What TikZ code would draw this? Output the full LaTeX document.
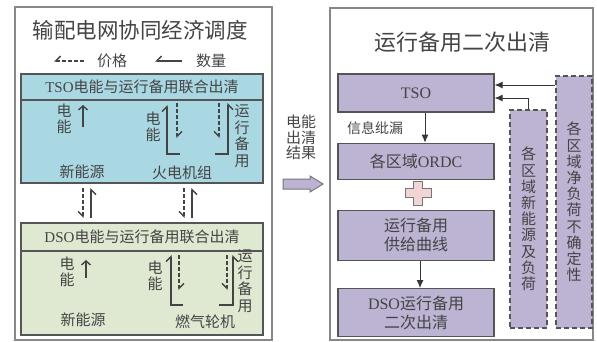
\documentclass[tikz,border=0pt]{standalone}
\usepackage{fontspec}
\setmainfont{Liberation Serif}
\newfontfamily\cjk{Noto Sans CJK SC}
\usetikzlibrary{positioning}
\usetikzlibrary{arrows.meta}

\definecolor{tsoblue}{HTML}{A9D8E3}
\definecolor{dsogreen}{HTML}{DFE9D2}
\definecolor{lilac}{HTML}{BDB3D3}
\definecolor{pluspink}{HTML}{F3D4D4}
\definecolor{ink}{HTML}{444444}
\definecolor{rim}{HTML}{555555}

\newcommand{\fsz}[2]{\fontsize{#1}{#2}\selectfont}

\tikzset{panel/.style={draw=rim!70, line width=1.2pt}}
\tikzset{mktbox/.style={draw=rim, line width=1.2pt, minimum width=242pt, inner sep=0pt, outer sep=0pt, text=ink, font=\cjk\fsz{15}{18}}}
\tikzset{lbl/.style={text=ink, font=\cjk\fsz{15}{18}, align=center, inner sep=0pt}}
\tikzset{vlbl/.style={lbl, font=\cjk\fsz{15}{16.5}}}
\tikzset{hp/.style={draw=ink, line width=1.4pt, -{Straight Barb[harpoon, length=5pt, width=10pt]}}}
\tikzset{hps/.style={draw=ink, line width=1.4pt, -{Straight Barb[harpoon, swap, length=5pt, width=10pt]}}}
\tikzset{up/.style={draw=ink, line width=1.4pt, -{Straight Barb[length=4pt, width=9pt]}}}
\tikzset{dsh/.style={dash pattern=on 4pt off 2pt}}
\tikzset{stage/.style={draw=rim, fill=lilac, line width=1.2pt, minimum width=156pt, inner sep=0pt, text=ink, font=\cjk\fsz{16}{19}, align=center}}
\tikzset{unc/.style={stage, dash pattern=on 5pt off 3pt, font=\cjk\fsz{15}{16.2}}}
\tikzset{flow/.style={draw=ink!80!black, line width=0.9pt, -{Latex[length=8pt, width=7pt]}}}

\begin{document}
\begin{tikzpicture}[x=1pt, y=-1pt]
\useasboundingbox (0,0) rectangle (597,342);

%%% Left panel: coordinated dispatch

\draw[panel] (15,7) rectangle (272,340);
\node[lbl, font=\cjk\fsz{21.5}{24}] (lTitle) at (140,30) {输配电网协同经济调度};

% legend
\coordinate (pa) at (84,61);
\coordinate (pb) at (54,61);
\coordinate (qa) at (182,61);
\coordinate (qb) at (155,61);
\draw[hps, dsh] (pa) -- (pb);
\draw[hps] (qa) -- (qb);
\node[lbl] (price) at (112,61) {价格};
\node[lbl] (qty) at (211,61) {数量};

% TSO market
\node[mktbox, fill=tsoblue, minimum height=26pt] (tsoHead) at (142,87) {{\rmfamily TSO}电能与运行备用联合出清};
\node[mktbox, fill=tsoblue, minimum height=83pt, below=0pt of tsoHead] (tsoBody) {};

\node[vlbl] (tE1) at (64,119) {电\\能};
\coordinate (tA1) at (83,127);
\coordinate (tB1) at (83,105);
\draw[up] (tA1) -- (tB1);
\node[lbl] (tNew) at (82,172) {新能源};

\node[vlbl] (tE2) at (153,127) {电\\能};
\coordinate (tS1) at (180,154);
\coordinate (tS2) at (167,105);
\coordinate (tD1) at (177,103);
\coordinate (tD2) at (177,138);
\coordinate (tD3) at (219,103);
\coordinate (tD4) at (219,138);
\coordinate (tS3) at (215,154);
\coordinate (tS4) at (228,103);
\draw[hp] (tS1) -| (tS2);
\draw[hp, dsh] (tD1) -- (tD2);
\draw[hps, dsh] (tD3) -- (tD4);
\draw[hps] (tS3) -| (tS4);
\node[vlbl] (tRes) at (242,136) {运\\行\\备\\用};
\node[lbl] (tCoal) at (182,173) {火电机组};

% exchange between the two markets
\foreach \x [count=\i] in {83,184} {
  \coordinate (xd\i a) at (\x,188);
  \coordinate (xd\i b) at (\x,218);
  \coordinate (xs\i a) at (\x+8,218);
  \coordinate (xs\i b) at (\x+8,188);
  \draw[hps, dsh] (xd\i a) -- (xd\i b);
  \draw[hps] (xs\i a) -- (xs\i b);
}

% DSO market
\node[mktbox, fill=dsogreen, minimum height=28pt] (dsoHead) at (142,237) {{\rmfamily DSO}电能与运行备用联合出清};
\node[mktbox, fill=dsogreen, minimum height=84pt, below=0pt of dsoHead] (dsoBody) {};

\node[vlbl] (dE1) at (67,272) {电\\能};
\coordinate (dA1) at (86,278);
\coordinate (dB1) at (86,260);
\draw[up] (dA1) -- (dB1);
\node[lbl] (dNew) at (83,320) {新能源};

\node[vlbl] (dE2) at (155,276) {电\\能};
\coordinate (dS1) at (183,305);
\coordinate (dS2) at (171,255);
\coordinate (dD1) at (179,255);
\coordinate (dD2) at (179,290);
\coordinate (dD3) at (227,255);
\coordinate (dD4) at (227,290);
\coordinate (dS3) at (219,305);
\coordinate (dS4) at (233,255);
\draw[hp] (dS1) -| (dS2);
\draw[hp, dsh] (dD1) -- (dD2);
\draw[hps, dsh] (dD3) -- (dD4);
\draw[hps] (dS3) -| (dS4);
\node[vlbl] (dRes) at (245,281) {运\\行\\备\\用};
\node[lbl] (dGas) at (205,322) {燃气轮机};

%%% Hand-over

\node[lbl, font=\cjk\fsz{15}{15.5}] (result) at (301,137.5) {电能\\出清\\结果};
\draw[draw=rim!80, fill=lilac, line width=1pt] (283,179) -- (310,179) -- (310,176) -- (323,184)
  -- (310,192) -- (310,189) -- (283,189) -- cycle;

%%% Right panel: second clearing of reserve

\draw[panel] (330,8) rectangle (593,340);
\node[lbl, font=\cjk\fsz{22}{24}] (rTitle) at (462,42) {运行备用二次出清};

\node[stage, minimum height=38pt] (tso) at (416,93) {{\rmfamily TSO}};
\node[stage, minimum height=36pt, below=30pt of tso] (ordc) {各区域{\rmfamily ORDC}};
\node[stage, minimum height=50pt, below=30pt of ordc] (supply) {运行备用\\供给曲线};
\node[stage, minimum height=48pt, below=27pt of supply] (dso) {{\rmfamily DSO}运行备用\\二次出清};

\draw[flow] ([xshift=9pt]tso.south) -- ([xshift=9pt]ordc.north);
\node[lbl, font=\cjk\fsz{14}{16}] (leak) at (375,128) {信息纰漏};
\draw[draw=rim!80, fill=pluspink, line width=1pt, shift={(418,193)}]
  (-4.5,-12) -- (4.5,-12) -- (4.5,-4.5) -- (13,-4.5) -- (13,4.5) -- (4.5,4.5) -- (4.5,12)
  -- (-4.5,12) -- (-4.5,4.5) -- (-13,4.5) -- (-13,-4.5) -- (-4.5,-4.5) -- cycle;
\draw[flow] ([xshift=4pt]supply.south) -- ([xshift=4pt]dso.north);

\node[unc, minimum width=37pt, minimum height=218pt] (uncRes) at (528.5,219)
  {各\\区\\域\\新\\能\\源\\及\\负\\荷};
\node[unc, minimum width=36pt, minimum height=252pt] (uncNet) at (574,202)
  {各\\区\\域\\净\\负\\荷\\不\\确\\定\\性};

\path ([yshift=8pt]tso.east) coordinate (netIn) ([yshift=-5pt]tso.east) coordinate (resIn);
\draw[flow] (netIn -| uncNet.west) -- (netIn);
\draw[flow] (uncRes.north) |- (resIn);

\end{tikzpicture}
\end{document}
